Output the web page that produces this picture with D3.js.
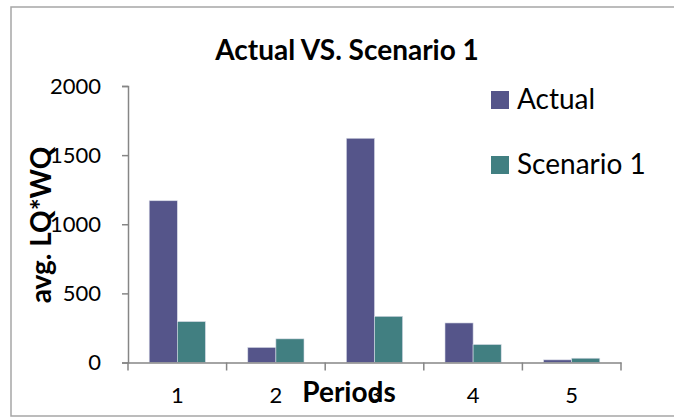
<!DOCTYPE html>
<html>
<head>
<meta charset="utf-8">
<script src="https://cdn.jsdelivr.net/npm/d3@7/dist/d3.min.js"></script>
<style>
  html, body { margin: 0; padding: 0; background: #fff; }
  svg { display: block; }
  text { font-family: Lato, "Open Sans", sans-serif; fill: #000; }
</style>
</head>
<body>
<svg id="chart" width="674" height="417"></svg>
<script>
const categories = ["1", "2", "3", "4", "5"];
const seriesNames = ["Actual", "Scenario 1"];
const actualValues = [1170, 109, 1622, 286, 19];
const scenarioValues = [296, 171, 334, 130, 31];
const yTicks = [0, 500, 1000, 1500, 2000];
const colors = ["#55558a", "#417f81"];

const svg = d3.select("#chart");

// outer frame
svg.append("rect")
  .attr("x", 11).attr("y", 7)
  .attr("width", 700).attr("height", 409)
  .attr("fill", "none").attr("stroke", "#a6a6a6").attr("stroke-width", 1.5);

const plot = { left: 128, right: 621, top: 86, bottom: 362.5 };

const x0 = d3.scaleBand().domain(categories)
  .range([plot.left, plot.right]).paddingInner(0.43).paddingOuter(0.215);
const x1 = d3.scaleBand().domain(seriesNames).range([0, x0.bandwidth()]);
const y = d3.scaleLinear().domain([0, 2000]).range([plot.bottom, plot.top]);

const data = categories.map((c, i) => ({ cat: c, vals: [actualValues[i], scenarioValues[i]] }));

// bars
const g = svg.append("g");
data.forEach(d => {
  d.vals.forEach((v, j) => {
    g.append("rect")
      .attr("x", x0(d.cat) + x1(seriesNames[j]))
      .attr("y", y(v))
      .attr("width", x1.bandwidth())
      .attr("height", y(0) - y(v))
      .attr("fill", colors[j])
      .attr("stroke", "#d8dbe6").attr("stroke-width", 0.6);
  });
});

// y axis
const yAxis = d3.axisLeft(y).tickValues(yTicks).tickSize(6).tickPadding(21).tickFormat(d3.format("d"));
const ya = svg.append("g").attr("transform", `translate(${plot.left},0)`).call(yAxis);
ya.select(".domain").attr("stroke", "#868686").attr("stroke-width", 1.5);
ya.selectAll(".tick line").attr("stroke", "#868686").attr("stroke-width", 1.5);
ya.selectAll(".tick text").attr("font-size", 22).attr("font-family", "Lato, sans-serif").attr("fill", "#000");

// x axis
const xAxis = d3.axisBottom(x0).tickSize(0).tickPadding(25);
const xa = svg.append("g").attr("transform", `translate(0,${plot.bottom})`).call(xAxis);
xa.select(".domain").attr("stroke", "#868686").attr("stroke-width", 1.5);
xa.selectAll(".tick text").attr("font-size", 22).attr("font-family", "Lato, sans-serif").attr("fill", "#000");
// category boundary ticks
const boundaries = categories.map(c => x0(c) - x0.step() * x0.paddingInner() / 2);
boundaries.push(plot.right);
boundaries[0] = plot.left;
xa.selectAll(".bnd").data(boundaries).enter().append("line")
  .attr("x1", d => d).attr("x2", d => d).attr("y1", 0).attr("y2", 8)
  .attr("stroke", "#868686").attr("stroke-width", 1.5);

// title
svg.append("text").attr("x", 347).attr("y", 60).attr("text-anchor", "middle")
  .attr("font-size", 28).attr("font-weight", "bold").text("Actual VS. Scenario 1");

// y label
svg.append("text").attr("transform", "translate(51,225) rotate(-90)")
  .attr("text-anchor", "middle").attr("font-size", 28).attr("font-weight", "bold").text("avg. LQ*WQ");

// x label
svg.append("text").attr("x", 349).attr("y", 402).attr("text-anchor", "middle")
  .attr("font-size", 28).attr("font-weight", "bold").text("Periods");

// legend
const legend = svg.append("g");
seriesNames.forEach((n, i) => {
  const ly = 91 + i * 65;
  legend.append("rect").attr("x", 491).attr("y", ly).attr("width", 18).attr("height", 18).attr("fill", colors[i]);
  legend.append("text").attr("x", 517).attr("y", ly + 18).attr("font-size", 28).text(n);
});
</script>
</body>
</html>
